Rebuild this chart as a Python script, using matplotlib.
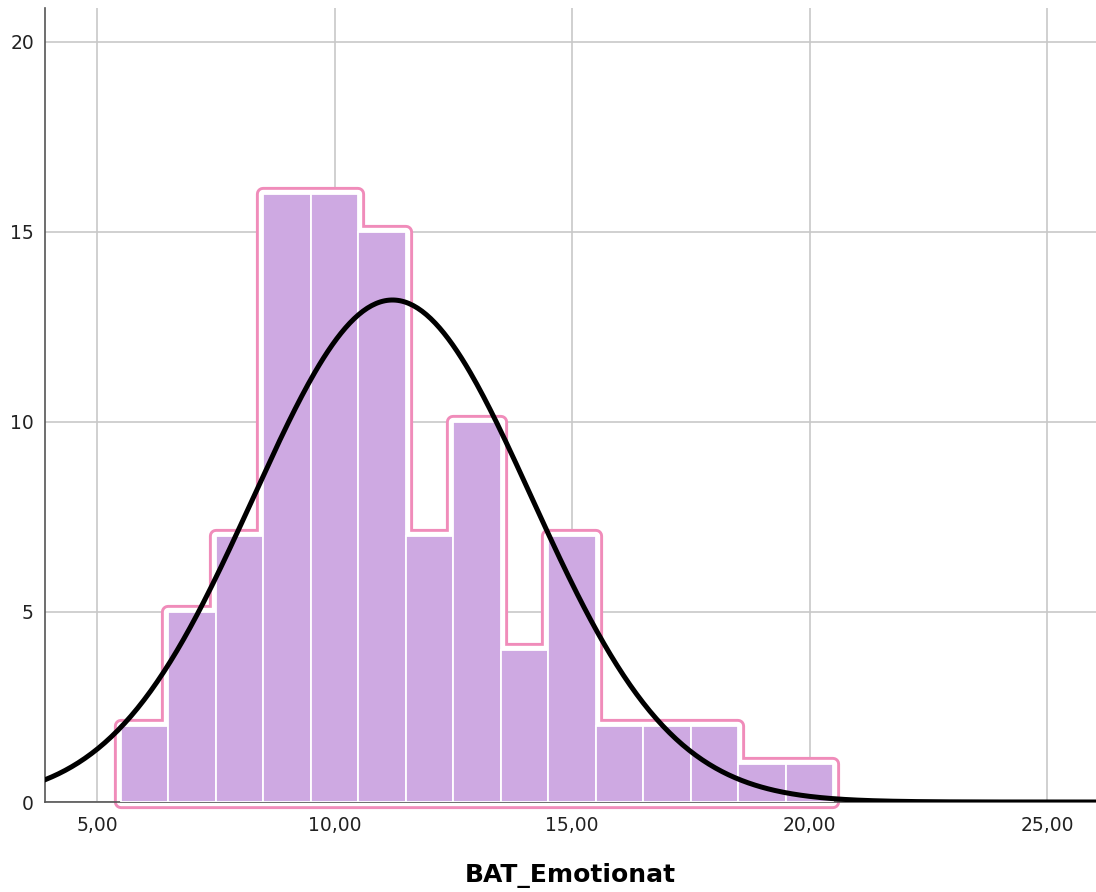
import numpy as np
import matplotlib.pyplot as plt
from matplotlib.patches import Polygon
from matplotlib.ticker import FuncFormatter

# histograma de BAT_Emotionat (intervalos de ancho 1)
bin_edges = [5.5, 6.5, 7.5, 8.5, 9.5, 10.5, 11.5, 12.5, 13.5, 14.5, 15.5, 16.5, 17.5, 18.5, 19.5, 20.5]
frecuencias = [2, 5, 7, 16, 16, 15, 7, 10, 4, 7, 2, 2, 2, 1, 1]

# curva normal
media = 11.22
desv = 2.93
n_total = sum(frecuencias)
ancho = 1.0

color_barra = '#cea9e2'
color_borde = '#f08cba'

fig = plt.figure(figsize=(10.96, 8.92), dpi=100)
ax = fig.add_axes([45 / 1096, 90 / 892, 1 - 45 / 1096, 794 / 892])

# contorno rosa alrededor del histograma
xs = [bin_edges[0]]
ys = [0]
for i, f in enumerate(frecuencias):
    xs += [bin_edges[i], bin_edges[i + 1]]
    ys += [f, f]
xs.append(bin_edges[-1])
ys.append(0)
pts = np.column_stack([xs, ys])
ax.add_patch(Polygon(pts, closed=True, fill=False, edgecolor=color_borde,
                     linewidth=10.2, joinstyle='round', zorder=2, clip_on=False))
ax.add_patch(Polygon(pts, closed=True, fill=True, facecolor='white', edgecolor='white',
                     linewidth=6.0, joinstyle='round', zorder=2.1, clip_on=False))

ax.bar(bin_edges[:-1], frecuencias, width=ancho, align='edge',
       color=color_barra, edgecolor='white', linewidth=1.3, zorder=3)

x = np.linspace(3.5, 26.5, 500)
y = n_total * ancho / (desv * np.sqrt(2 * np.pi)) * np.exp(-0.5 * ((x - media) / desv) ** 2)
ax.plot(x, y, color='black', linewidth=3.6, zorder=5)

ax.set_xlim(3.905, 26.03)
ax.set_ylim(0, 20.89)
ax.set_xticks([5, 10, 15, 20, 25])
ax.set_yticks([0, 5, 10, 15, 20])
ax.xaxis.set_major_formatter(FuncFormatter(lambda v, p: f'{v:.2f}'.replace('.', ',')))
ax.tick_params(length=0, labelsize=13.5, colors='#222222')
ax.tick_params(axis='x', pad=10)
ax.tick_params(axis='y', pad=8)

ax.grid(True, color='#c8c8c8', linewidth=1.2, zorder=0)
ax.set_axisbelow(True)
for s in ['top', 'right']:
    ax.spines[s].set_visible(False)
for s in ['left', 'bottom']:
    ax.spines[s].set_color('#555555')
    ax.spines[s].set_linewidth(1.2)

ax.set_xlabel('BAT_Emotionat', fontsize=18, fontweight='bold', labelpad=20)

plt.savefig('out.png', dpi=100)
